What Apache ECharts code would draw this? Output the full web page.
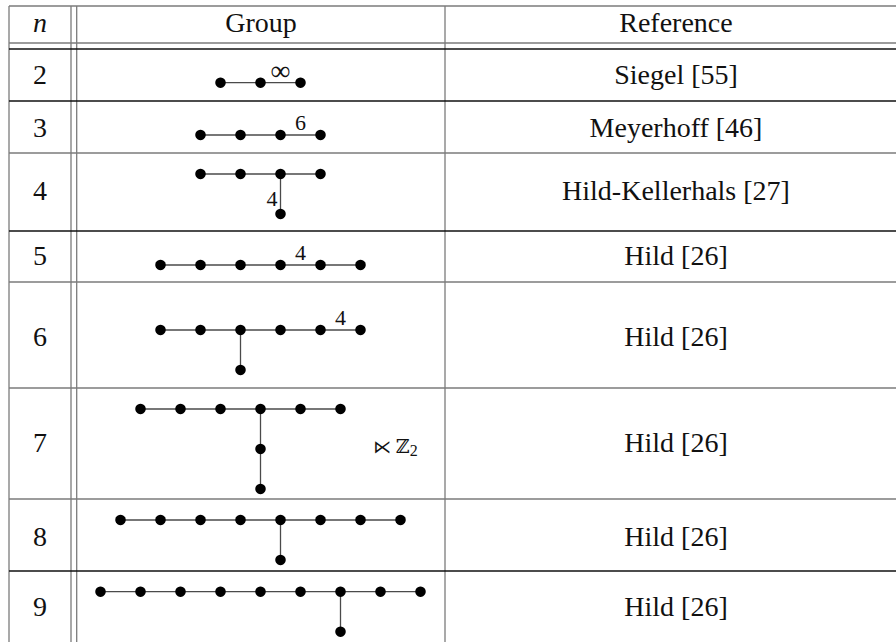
<!DOCTYPE html>
<html><head><meta charset="utf-8">
<script src="https://cdn.jsdelivr.net/npm/echarts@6/dist/echarts.min.js"></script>
<style>html,body{margin:0;padding:0;background:#fff}#c{width:896px;height:642px}</style>
</head><body><div id="c"></div>
<script>
// ---------------- DATA ----------------
const headers = ['n', 'Group', 'Reference'];
const rowN = ['2', '3', '4', '5', '6', '7', '8', '9'];
const references = ['Siegel [55]', 'Meyerhoff [46]', 'Hild-Kellerhals [27]', 'Hild [26]', 'Hild [26]', 'Hild [26]', 'Hild [26]', 'Hild [26]'];

// Coxeter diagram nodes: [position along chain, depth of branch]  (diagram units)
const nodes2 = [[-1, 0], [0, 0], [1, 0]];
const edges2 = [[0, 1, ''], [1, 2, '∞']];
const nodes3 = [[-1.5, 0], [-0.5, 0], [0.5, 0], [1.5, 0]];
const edges3 = [[0, 1, ''], [1, 2, ''], [2, 3, '6']];
const nodes4 = [[-1.5, 0], [-0.5, 0], [0.5, 0], [1.5, 0], [0.5, 1]];
const edges4 = [[0, 1, ''], [1, 2, ''], [2, 3, ''], [2, 4, '4']];
const nodes5 = [[-2.5, 0], [-1.5, 0], [-0.5, 0], [0.5, 0], [1.5, 0], [2.5, 0]];
const edges5 = [[0, 1, ''], [1, 2, ''], [2, 3, ''], [3, 4, '4'], [4, 5, '']];
const nodes6 = [[-2.5, 0], [-1.5, 0], [-0.5, 0], [0.5, 0], [1.5, 0], [2.5, 0], [-0.5, 1]];
const edges6 = [[0, 1, ''], [1, 2, ''], [2, 3, ''], [3, 4, ''], [4, 5, '4'], [2, 6, '']];
const nodes7 = [[-3, 0], [-2, 0], [-1, 0], [0, 0], [1, 0], [2, 0], [0, 1], [0, 2]];
const edges7 = [[0, 1, ''], [1, 2, ''], [2, 3, ''], [3, 4, ''], [4, 5, ''], [3, 6, ''], [6, 7, '']];
const nodes8 = [[-3.5, 0], [-2.5, 0], [-1.5, 0], [-0.5, 0], [0.5, 0], [1.5, 0], [2.5, 0], [3.5, 0], [0.5, 1]];
const edges8 = [[0, 1, ''], [1, 2, ''], [2, 3, ''], [3, 4, ''], [4, 5, ''], [5, 6, ''], [6, 7, ''], [4, 8, '']];
const nodes9 = [[-4, 0], [-3, 0], [-2, 0], [-1, 0], [0, 0], [1, 0], [2, 0], [3, 0], [4, 0], [2, 1]];
const edges9 = [[0, 1, ''], [1, 2, ''], [2, 3, ''], [3, 4, ''], [4, 5, ''], [5, 6, ''], [6, 7, ''], [7, 8, ''], [6, 9, '']];
const row7Suffix = ['⋉', 'ℤ', '2'];

const diagramNodes = [nodes2, nodes3, nodes4, nodes5, nodes6, nodes7, nodes8, nodes9];
const diagramEdges = [edges2, edges3, edges4, edges5, edges6, edges7, edges8, edges9];

// ---------------- LAYOUT ----------------
const W = 896, H = 642;
const L = {
  vLines: [9, 71, 76.7, 445],
  hLines: [[6, 0], [43, 0], [49, 1], [101, 1], [153, 0], [231, 1], [282, 0], [388, 0], [499, 0], [571, 1]],
  colCenters: [40, 261, 676],
  headerY: 22.5,
  rowTextY: [74, 127.5, 190.3, 255.5, 336, 442, 536, 606],
  chainY: [82.7, 135, 174, 265, 330, 409, 520, 591.7],
  diagCx: 260.5,
  unit: 40
};
const SERIF = 'Liberation Serif';
const lineColors = ['#7b7b7b', '#111111'];

// build table lines
const tableLines = [];
L.vLines.forEach(x => tableLines.push([x, L.hLines[0][0], x, H + 2, 0]));
L.hLines.forEach(h => tableLines.push([L.vLines[0], h[0], W + 2, h[0], h[1]]));

// build diagram geometry
const nodePts = [], edgeSegs = [], texts = [];
const px = (r, n) => [L.diagCx + n[0] * L.unit, L.chainY[r] + n[1] * L.unit];
diagramNodes.forEach((ns, r) => ns.forEach(n => nodePts.push(px(r, n))));
diagramEdges.forEach((es, r) => es.forEach(e => {
  const a = px(r, diagramNodes[r][e[0]]), b = px(r, diagramNodes[r][e[1]]);
  edgeSegs.push([a[0], a[1], b[0], b[1]]);
  if (e[2]) {
    if (a[1] === b[1]) {
      const big = e[2] === '∞';
      texts.push({ x: (a[0] + b[0]) / 2, y: a[1] - 12.5, text: e[2], size: big ? 28 : 22, align: 'center' });
    } else {
      texts.push({ x: a[0] - 3, y: (a[1] + b[1]) / 2 + 4, text: e[2], size: 22, align: 'right' });
    }
  }
}));
// header / cells
headers.forEach((h, i) => texts.push({ x: L.colCenters[i], y: L.headerY, text: h, size: 28, italic: i === 0, align: 'center' }));
rowN.forEach((n, r) => texts.push({ x: L.colCenters[0], y: L.rowTextY[r], text: n, size: 28, align: 'center' }));
references.forEach((t, r) => texts.push({ x: L.colCenters[2], y: L.rowTextY[r], text: t, size: 28, align: 'center' }));
texts.push({
  x: L.diagCx + 2.82 * L.unit, y: L.chainY[5] + 0.93 * L.unit, align: 'left', size: 18,
  text: '{o|' + row7Suffix[0] + '} {z|' + row7Suffix[1] + '}{s|' + row7Suffix[2] + '}',
  rich: {
    o: { fontSize: 18, fontFamily: 'DejaVu Sans', fill: '#111' },
    z: { fontSize: 19, fontFamily: 'DejaVu Serif', fill: '#111' },
    s: { fontSize: 16, fontFamily: SERIF, fill: '#111', padding: [8, 0, 0, 0] }
  }
});

const chart = echarts.init(document.getElementById('c'), null, { renderer: 'svg', width: W, height: H });
chart.setOption({
  animation: false,
  backgroundColor: '#fff',
  textStyle: { fontFamily: SERIF },
  grid: { left: 0, right: 0, top: 0, bottom: 0 },
  xAxis: { type: 'value', min: 0, max: W, show: false },
  yAxis: { type: 'value', min: 0, max: H, inverse: true, show: false },
  series: [
    {
      type: 'custom', name: 'table', clip: false, silent: true,
      data: tableLines, encode: { x: [0, 2], y: [1, 3] },
      renderItem: (p, api) => {
        const a = api.coord([api.value(0), api.value(1)]), b = api.coord([api.value(2), api.value(3)]);
        return { type: 'line', shape: { x1: a[0], y1: a[1], x2: b[0], y2: b[1] }, style: { stroke: lineColors[api.value(4)], lineWidth: 1.3 } };
      }
    },
    {
      type: 'custom', name: 'edges', clip: false, silent: true,
      data: edgeSegs, encode: { x: [0, 2], y: [1, 3] },
      renderItem: (p, api) => {
        const a = api.coord([api.value(0), api.value(1)]), b = api.coord([api.value(2), api.value(3)]);
        return { type: 'line', shape: { x1: a[0], y1: a[1], x2: b[0], y2: b[1] }, style: { stroke: '#4a4a4a', lineWidth: 1.3 } };
      }
    },
    {
      type: 'scatter', name: 'nodes', data: nodePts, symbol: 'circle', symbolSize: 10.5,
      itemStyle: { color: '#000', opacity: 1 }, silent: true, z: 5
    }
  ]
});
// texts placed through the cartesian axes
chart.setOption({
  graphic: texts.map(t => {
    const c = chart.convertToPixel({ gridIndex: 0 }, [t.x, t.y]);
    const style = {
      text: t.text, fontSize: t.size, fontFamily: t.fam || SERIF, fontStyle: t.italic ? 'italic' : 'normal',
      fill: '#111', align: t.align, verticalAlign: 'middle'
    };
    if (t.rich) style.rich = t.rich;
    return { type: 'text', x: c[0], y: c[1], z: 10, silent: true, style };
  })
});
</script></body></html>
